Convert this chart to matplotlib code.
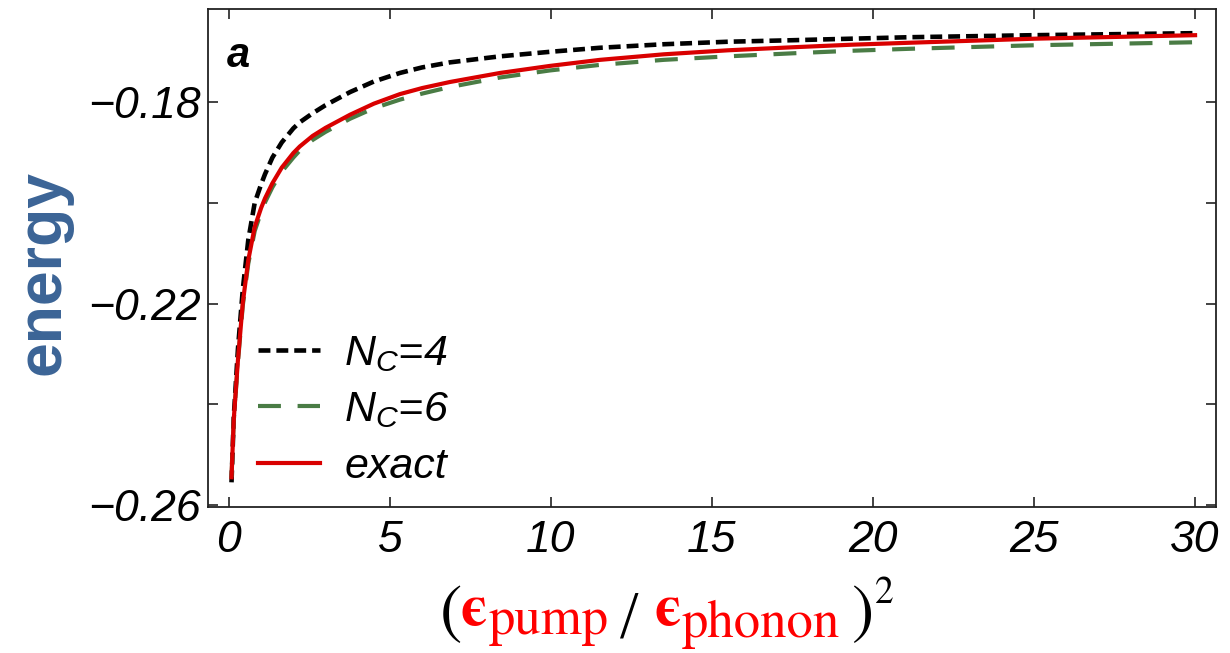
import matplotlib
matplotlib.use("Agg")
import matplotlib.pyplot as plt

# ---------------- data ----------------
x_vals = [0.08, 0.15, 0.28, 0.43, 0.6, 0.8, 1.0, 1.12, 1.35, 1.64, 2.0, 2.2, 2.6,
          3.0, 3.76, 4.5, 5.31, 6.0, 6.86, 8.42, 9.97, 11.52, 13.5, 15.5, 17.5,
          19.3, 21.15, 25, 30]
exact = [-0.2545, -0.2430, -0.2312, -0.2199, -0.2114, -0.2048, -0.2010, -0.1991,
         -0.1961, -0.1930, -0.1901, -0.1888, -0.1867, -0.1851, -0.1825, -0.1803,
         -0.1784, -0.1772, -0.1760, -0.1742, -0.1728, -0.1716, -0.1705, -0.1697,
         -0.1691, -0.1686, -0.1682, -0.1674, -0.1667]
nc4 = [-0.2555, -0.2425, -0.2290, -0.2172, -0.2074, -0.2000, -0.1963, -0.1943,
       -0.1910, -0.1880, -0.1852, -0.1840, -0.1822, -0.1806, -0.1780, -0.1759,
       -0.1742, -0.1731, -0.1721, -0.1709, -0.1700, -0.1692, -0.1685, -0.1680,
       -0.1677, -0.1674, -0.1671, -0.1667, -0.1663]
nc6 = [-0.2545, -0.2432, -0.2316, -0.2204, -0.2121, -0.2056, -0.2018, -0.1999,
       -0.1969, -0.1938, -0.1910, -0.1896, -0.1875, -0.1859, -0.1833, -0.1812,
       -0.1795, -0.1783, -0.1770, -0.1751, -0.1737, -0.1726, -0.1716, -0.1709,
       -0.1703, -0.1698, -0.1694, -0.1687, -0.1681]
legend_labels = [r"$N_C$=4", r"$N_C$=6", "exact"]
xticks = [0, 5, 10, 15, 20, 25, 30]
xtick_labels = ["0", "5", "10", "15", "20", "25", "30"]
yticks = [-0.26, -0.24, -0.22, -0.20, -0.18]
ytick_labels = ["\u22120.26", "", "\u22120.22", "", "\u22120.18"]

# ---------------- style ----------------
plt.rcParams["font.family"] = ["Liberation Sans", "DejaVu Sans"]
plt.rcParams["mathtext.fontset"] = "custom"
plt.rcParams["mathtext.it"] = "Liberation Sans:italic"
plt.rcParams["mathtext.rm"] = "Liberation Sans:italic"

W, H = 1230, 653
fig = plt.figure(figsize=(W / 100, H / 100), dpi=100)


def fx(px):
    return px / W


def fy(py):
    return 1 - py / H


ax_l, ax_r, ax_t, ax_b = 208, 1216, 9, 507
ax = fig.add_axes([fx(ax_l), fy(ax_b), (ax_r - ax_l) / W, (ax_b - ax_t) / H])

ax.plot(x_vals, nc4, color="black", lw=3.3, dashes=(2.6, 1.3), label=legend_labels[0],
        dash_capstyle="butt")
ax.plot(x_vals, nc6, color="#4a7c45", lw=3.0, dashes=(5.5, 4.0), label=legend_labels[1],
        dash_capstyle="butt")
ax.plot(x_vals, exact, color="#d90000", lw=3.0, label=legend_labels[2])

ax.set_xlim(-0.65, 30.65)
ax.set_ylim(-0.2604, -0.1615)

ax.set_xticks(xticks)
ax.set_xticklabels(xtick_labels, fontsize=32, fontstyle="italic")
ax.set_yticks(yticks)
ax.set_yticklabels(ytick_labels, fontsize=32, fontstyle="italic")
ax.tick_params(direction="in", top=True, right=True, length=7, width=1.2,
               color="#222222")
ax.tick_params(axis="x", pad=9)
ax.tick_params(axis="y", pad=5)
for sp in ax.spines.values():
    sp.set_linewidth(1.3)
    sp.set_color("#222222")

leg = ax.legend(loc="upper left", bbox_to_anchor=(fx(258), fy(334)),
                bbox_transform=fig.transFigure, frameon=False,
                prop={"style": "italic", "size": 31},
                handlelength=1.45, handletextpad=0.55, labelspacing=0.38,
                borderpad=0, borderaxespad=0)

# panel letter
fig.text(fx(227), fy(67), "a", fontsize=30, fontweight="bold", fontstyle="italic",
         ha="left", va="baseline")

# y label
fig.text(fx(43), fy(272), "energy", fontsize=45, fontweight="bold", color="#3b6496",
         rotation=90, ha="center", va="center")

# x label built from pieces (mixed colours)
serif = "STIXGeneral"
red = "#ff0000"
pieces = [
    ("(", 440, 631, 48, "black", "normal", serif),
    ("\u03f5", 461, 625, 42, red, "bold", serif),
    ("pump", 489, 634, 38, red, "normal", serif),
    ("/", 620, 636, 48, "black", "normal", "Liberation Serif"),
    ("\u03f5", 654, 625, 42, red, "bold", serif),
    ("phonon", 682, 637, 38, red, "normal", serif),
    (")", 851, 631, 48, "black", "normal", serif),
    ("2", 875, 603, 27, "black", "normal", serif),
]
for s, px, py, size, col, wt, fam in pieces:
    fig.text(fx(px), fy(py), s, fontsize=size, color=col, fontweight=wt,
             family=fam, ha="left", va="baseline")

fig.savefig("out.png", dpi=100)
